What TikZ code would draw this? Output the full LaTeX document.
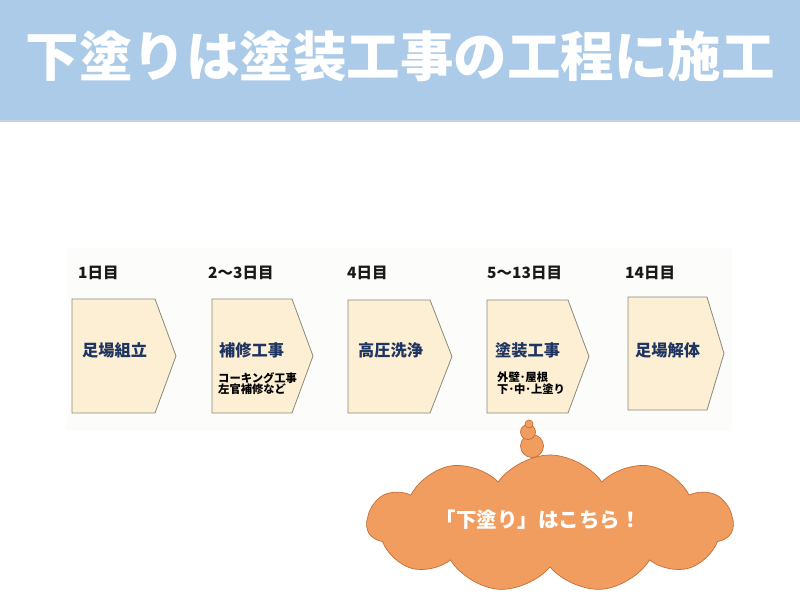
\documentclass[tikz,border=0pt]{standalone}
\usepackage{fontspec}
\usetikzlibrary{shapes.symbols}
\newfontfamily\jp{Noto Sans CJK JP}
\definecolor{hdr}{HTML}{ABCBE9}
\definecolor{hdrline}{HTML}{C4D4E2}
\definecolor{panelc}{HTML}{FCFCFA}
\definecolor{chevfill}{HTML}{FDEFD3}
\definecolor{chevline}{HTML}{8A897C}
\definecolor{navy}{HTML}{1E3461}
\definecolor{cloudfill}{HTML}{F29D60}
\definecolor{cloudline}{HTML}{C26E38}
\tikzset{
  titletext/.style={text=white, font=\jp\bfseries\fontsize{53.5}{57}\selectfont, inner sep=0pt},
  chev/.style={fill=chevfill, draw=chevline, line width=0.8pt, line join=miter},
  daylbl/.style={anchor=west, text=black!90, font=\jp\bfseries\fontsize{15.5}{17}\selectfont, inner sep=0pt},
  mainlbl/.style={anchor=west, text=navy, font=\jp\bfseries\fontsize{16.2}{18}\selectfont, inner sep=0pt},
  sublbl/.style={anchor=north west, align=left, text=black, font=\jp\bfseries\fontsize{11.3}{11.5}\selectfont, inner sep=0pt},
  cloudshape/.style={cloud, cloud puffs=11, cloud puff arc=110, aspect=2.7, fill=cloudfill, draw=cloudline, line width=0.7pt, minimum width=366pt, minimum height=137pt, inner sep=0pt},
  bubble/.style={fill=cloudfill, draw=cloudline, line width=0.7pt},
  cloudtext/.style={text=white, font=\jp\bfseries\fontsize{20.5}{22}\selectfont, inner sep=0pt}
}
\begin{document}
\begin{tikzpicture}[x=1pt,y=-1pt]
\useasboundingbox (0,0) rectangle (800,600);
\fill[white] (0,0) rectangle (800,600);
\fill[hdr] (0,0) rectangle (800,120);
\draw[hdrline, line width=1.5pt] (0,121) -- (800,121);
\node[titletext] (title) at (400,56) {下塗りは塗装工事の工程に施工};
\fill[panelc] (66,248) rectangle (732,431);
% chevrons
\foreach \x/\t/\w/\p/\b in {72/299/83/21/413, 212/299/80/21/413, 348/300/82/22/413, 487/300/81/21/413, 628/297/79/17/410}{
  \draw[chev] (\x,\t) -- ++(\w,0) -- (\x+\w+\p,{(\t+\b)/2}) -- (\x+\w,\b) -- (\x,\b) -- cycle;
}
% day labels
\node[daylbl] (d1) at (78,273) {1日目};
\node[daylbl] (d2) at (208,273) {2～3日目};
\node[daylbl] (d3) at (347,273) {4日目};
\node[daylbl] (d4) at (487,273) {5～13日目};
\node[daylbl] (d5) at (625,273) {14日目};
% main labels
\node[mainlbl] (m1) at (82,350) {足場組立};
\node[mainlbl] (m2) at (219,350) {補修工事};
\node[mainlbl] (m3) at (358,350) {高圧洗浄};
\node[mainlbl] (m4) at (495,350) {塗装工事};
\node[mainlbl] (m5) at (635,350) {足場解体};
% sub labels
\node[sublbl] (s2) at (218,372) {コーキング工事\\左官補修など};
\node[sublbl] (s4) at (497,372) {外壁･屋根\\下･中･上塗り};
% cloud
\node[cloudshape] (cloud) at (550,523.5) {};
\node[cloudtext] (ctext) at (538,520) {「下塗り」はこちら！};
\draw[bubble] (532,446) circle (11.5);
\draw[bubble] (528,432) circle (7.5);
\draw[bubble] (529,424) circle (4);
\end{tikzpicture}
\end{document}
